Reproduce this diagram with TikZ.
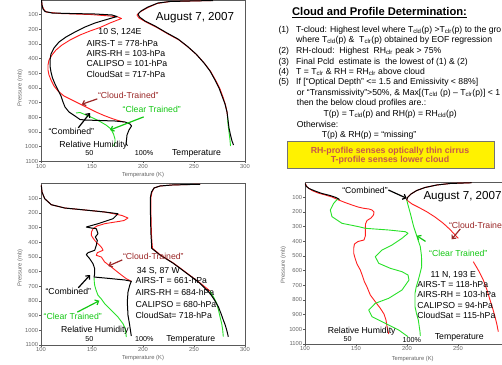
\documentclass[tikz,border=0pt]{standalone}
\usepackage{fontspec}
\setmainfont{Liberation Sans}
\usetikzlibrary{arrows.meta,calc}
\definecolor{curvered}{RGB}{255,30,30}
\definecolor{curvegreen}{RGB}{40,225,40}
\definecolor{txtred}{RGB}{155,40,40}
\definecolor{txtgreen}{RGB}{20,200,20}
\definecolor{boxtxt}{RGB}{198,88,76}
\newcommand{\plotframe}[4]{% #1 left x, #2 y of 0 mb, #3 right x, #4 last x label
  \draw[frame] (#1,#2) rectangle (#3,#2+161.3);
  \foreach \p in {1,...,11} {
    \draw[frame] (#1,#2+\p*14.66) -- ++(-2,0) node[ticklab,anchor=east] {\p00};
  }
  \foreach \t [count=\i from 0] in {100,150,...,#4} {
    \draw[frame] (#1+\i*51,#2+161.3) -- ++(0,2) node[ticklab,anchor=north] {\t};
  }
}
\newcommand{\sbs}[1]{\textsubscript{#1}}
\begin{document}
\begin{tikzpicture}[x=1pt,y=-1pt,
  frame/.style={draw=black!65, line width=0.5pt},
  ticklab/.style={font=\fontsize{5.8}{6}\selectfont, text=black!60, inner sep=0.6pt},
  axlab/.style={font=\fontsize{5.8}{6}\selectfont, text=black!60, inner sep=0pt},
  blkc/.style={draw=black, line width=1pt, line join=round},
  redc/.style={draw=curvered, line width=0.9pt, line join=round},
  grnc/.style={draw=curvegreen, line width=0.9pt, line join=round},
  ann/.style={font=\fontsize{8.7}{10}\selectfont, inner sep=0.5pt},
  bigdate/.style={font=\fontsize{11.6}{13}\selectfont, inner sep=0pt},
  smalllab/.style={font=\fontsize{7.2}{8}\selectfont, inner sep=0pt},
  arr/.style={-{Straight Barb[length=3pt,width=5.5pt]}, line width=1.2pt},
  listtxt/.style={font=\fontsize{8.65}{10}\selectfont, anchor=base west, inner sep=0pt},
]
\useasboundingbox (0,0) rectangle (502,364);
\clip (0,0) rectangle (502,364);
\fill[white] (0,0) rectangle (502,364);

% ================= TOP-LEFT PLOT =================
\plotframe{41}{0}{245}{300}
\node[axlab, rotate=90] (pl1) at (20,88) {Pressure (mb)};
\node[axlab] (tl1) at (143,175) {Temperature (K)};
% temperature
\draw[redc] (213,0.5) -- (170,1.5) -- (157,3.5) -- (147,8) -- (140,12) -- (137,15) -- (139,18) -- (146,22) -- (156,27) -- (168,34) -- (179,40) -- (188,47) -- (197,55) -- (205,64) -- (211,72) -- (216,81) -- (220,89) -- (223,97) -- (225.5,105) -- (227,112) -- (227.5,116);
\draw[grnc] (227.5,116) -- (228,124) -- (229,132) -- (230,140) -- (230.5,146);
\draw[blkc] (213,0.5) -- (190,1) -- (170,1.5) -- (158,3) -- (148,7) -- (141,11) -- (138,14) -- (139.5,17) -- (145,21) -- (155,26) -- (167,33) -- (178,39) -- (187,46) -- (196,54) -- (204,63) -- (210,71) -- (215,80) -- (219,88) -- (222,96) -- (225,104) -- (227,112) -- (228,120) -- (229,128) -- (230.5,135) -- (232,141) -- (233.5,145);
% RH
\draw[redc] (41.5,0) -- (42,5) -- (43.5,9) -- (46,12) -- (60,13.5) -- (90,14.5) -- (110,16) -- (118,17) -- (121.5,18.5) -- (110,23) -- (100,27.5) -- (90,31) -- (80,35) -- (70,40) -- (62,45) -- (56,50) -- (52,55) -- (49,60) -- (48,65) -- (48,70) -- (49,75) -- (51,80) -- (54,86) -- (58,91) -- (64,96) -- (72,100) -- (80,104) -- (88,108) -- (96,112) -- (104,115.5) -- (112,118.5) -- (118,120.5) -- (124,122);
\draw[grnc] (76,113) -- (80,112.5) -- (86,115) -- (93,118) -- (100,121.5) -- (106,125) -- (111,129) -- (113.5,134) -- (115,139) -- (115,143) -- (113.5,146);
\draw[blkc] (41.5,0) -- (42,5) -- (43,9) -- (45,11.5) -- (52,13) -- (70,13.5) -- (95,14) -- (112,15) -- (117,16.5) -- (105,20) -- (95,23) -- (85,27) -- (75,32) -- (66,37) -- (59,42) -- (54,48) -- (51,54) -- (50,60) -- (50,66) -- (51,72) -- (52.5,78) -- (55,84) -- (58,90) -- (61,96) -- (63,102) -- (65,107) -- (69,112) -- (75,116) -- (80,119.5) -- (85,120) -- (100,120.5) -- (115,121) -- (125,122) -- (130,124) -- (131.5,126) -- (129,130) -- (127,135) -- (126.5,140) -- (126,144) -- (127.5,145.5);
% labels
\node[bigdate] (d1) at (195,17.3) {August 7, 2007};
\node[ann] (loc1) at (120,32.3) {10 S, 124E};
\node[ann, anchor=west] (i1a) at (86,43.3) {AIRS-T = 778-hPa};
\node[ann, anchor=west] (i1b) at (86,53.5) {AIRS-RH = 103-hPa};
\node[ann, anchor=west] (i1c) at (86,63.8) {CALIPSO = 101-hPa};
\node[ann, anchor=west] (i1d) at (86,74) {CloudSat = 717-hPa};
\node[ann, text=txtred] (ct1) at (128.3,95) {“Cloud-Trained”};
\node[ann, text=txtgreen] (cl1) at (151.7,109) {“Clear Trained”};
\node[ann] (cb1) at (71.3,131.7) {“Combined”};
\node[ann] (rh1) at (93.3,145) {Relative Humidity};
\node[smalllab] (f1) at (89.3,153.3) {50};
\node[smalllab] (h1) at (144,153.3) {100\%};
\node[ann] (te1) at (196.5,153.3) {Temperature};
\coordinate (a1) at (81.7,104.3);
\coordinate (b1) at (110,130);
\coordinate (c1) at (90,113);
\draw[arr, txtred] (ct1.south west) -- (a1);
\draw[arr, txtgreen] ($(cl1.south)+(-8,4)$) -- (b1);
\draw[arr, black] ($(cb1.north)+(7,0)$) -- (c1);

% ================= BOTTOM-LEFT PLOT =================
\plotframe{41}{183.6}{245}{300}
\node[axlab, rotate=90] (pl2) at (20,268) {Pressure (mb)};
\node[axlab] (tl2) at (143,358) {Temperature (K)};
% temperature
\draw[redc] (200,184.3) -- (185,184.6) -- (172,185) -- (160,186) -- (154,188) -- (152,192) -- (151,197) -- (150.8,205) -- (151,215) -- (151.2,225) -- (151.5,235) -- (152,243) -- (152.5,248.3) -- (160.5,255) -- (173.8,263.3) -- (187.2,273.3) -- (200.5,283.3) -- (210,291);
\draw[grnc] (210,291) -- (213.5,297) -- (216.7,303.3) -- (218.5,310) -- (220,316.7) -- (221.7,323.5) -- (222.7,330) -- (223.3,336.7);
\draw[blkc] (200,184.3) -- (185,184.6) -- (172,185) -- (160,186) -- (154,188) -- (151.5,192) -- (150.5,197) -- (150.3,205) -- (150.5,215) -- (150.7,225) -- (151,235) -- (151.5,243) -- (151.7,248.3) -- (160,255) -- (173.3,263.3) -- (186.7,273.3) -- (200,283.3) -- (210,293.3) -- (214.5,300) -- (218.3,306.7) -- (221,313.5) -- (223.3,320) -- (225.2,325) -- (226.7,330) -- (228.3,336.7);
% RH
\draw[redc] (41.3,185.3) -- (42,192) -- (44.7,198.7) -- (51.3,204.7) -- (64.7,208) -- (88,210.3) -- (104.7,212) -- (115,214) -- (122,215.5) -- (128,218) -- (124,220.5) -- (119.7,221.3) -- (112,222.5) -- (104.7,223.7) -- (97,226) -- (93,228.7) -- (91.5,232) -- (91.3,235.3) -- (93,238) -- (94.7,240.3) -- (97,243) -- (99.7,245.3) -- (102,248) -- (103,250.3) -- (97.3,252.7) -- (96.3,255.3) -- (101.3,257) -- (104.7,262) -- (111.3,267) -- (119.7,273.7) -- (126.3,278.7) -- (131.3,281.3);
\draw[grnc] (94,277.5) -- (94.3,282) -- (94.7,285.3) -- (96,290) -- (98,295.3) -- (101,298.5) -- (104.7,303.7) -- (109.7,308.7) -- (114,313) -- (118,317) -- (121,321) -- (123,323.7) -- (125,328) -- (125.3,330.3) -- (126,334) -- (126.3,337);
\draw[blkc] (41.3,185.3) -- (42,192) -- (44.7,198.7) -- (51.3,204.7) -- (64.7,208) -- (88,210.3) -- (104.7,212) -- (118,213.7) -- (113,218.7) -- (98,223.7) -- (86.3,227) -- (91.3,228) -- (96.3,228.7) -- (98,233.7) -- (95.3,237) -- (97.3,240.3) -- (96.3,245.3) -- (94.7,250.3) -- (88,252.7) -- (86.3,254.7) -- (89.7,258.7) -- (93,263.7) -- (94.7,268.7) -- (94.7,273.7) -- (94,277) -- (110,278.5) -- (125,280) -- (131.3,281.3) -- (129.7,285.3) -- (128,292) -- (127.3,302) -- (128,315.3) -- (129.7,325.3) -- (131.3,336);
% labels
\node[ann, text=txtred] (ct2) at (153.3,256) {“Cloud-Trained”};
\node[ann] (loc2) at (158.3,270.7) {34 S, 87 W};
\node[ann, anchor=west] (i2a) at (135,280.7) {AIRS-T = 661-hPa};
\node[ann, anchor=west] (i2b) at (135,292.3) {AIRS-RH = 684-hPa};
\node[ann, anchor=west] (i2c) at (135,304) {CALIPSO = 680-hPa};
\node[ann, anchor=west] (i2d) at (135,315.7) {CloudSat= 718-hPa};
\node[ann] (cb2) at (68.3,291.7) {“Combined”};
\node[ann, text=txtgreen] (cl2) at (72.7,316) {“Clear Trained”};
\node[ann] (rh2) at (95,330.7) {Relative Humidity};
\node[smalllab] (f2) at (89.3,339.3) {50};
\node[smalllab] (h2) at (144.3,339.3) {100\%};
\node[ann] (te2) at (190.7,339.3) {Temperature};
\coordinate (a2) at (108.3,266);
\coordinate (b2) at (90,275);
\coordinate (c2) at (99.3,300.7);
\draw[arr, txtred] (ct2.south west) -- (a2);
\draw[arr, black] ($(cb2.north)+(10,0)$) -- (b2);
\draw[arr, txtgreen] ($(cl2.north)+(4.6,0)$) -- (c2);

% ================= BOTTOM-RIGHT PLOT =================
\plotframe{305}{182.6}{510}{250}
\node[axlab, rotate=90] (pl3) at (283.3,265) {Pressure (mb)};
\node[axlab] (tl3) at (412.7,359.3) {Temperature (K)};
% temperature
\draw[redc] (471.7,182.7) -- (450,183.5) -- (436.7,185) -- (425,187.5) -- (416.7,190.5) -- (411,194) -- (407.5,197.5) -- (406.7,200) -- (412,204) -- (418,207) -- (426.7,211.7) -- (435,217) -- (443.3,223.3) -- (450,229.5) -- (456.7,236.7) -- (458.3,238.3);
\draw[redc] (473.3,261.7) -- (478.5,270.5) -- (483.3,280) -- (487,290) -- (490,300) -- (492.7,308.5) -- (495,316.7) -- (496.8,324) -- (498.3,331.7);
\draw[grnc] (406.7,200) -- (408,205) -- (410.3,213.3) -- (412,220) -- (413.7,226.7) -- (417,236.7) -- (420.3,246.7) -- (421.5,256) -- (421.7,266.7) -- (420,273.5) -- (418.3,280) -- (416.2,287) -- (415,293.3) -- (415,306.7) -- (416.5,313.5) -- (418.3,320) -- (420,331.7) -- (420.3,336);
\draw[blkc] (471.7,182.7) -- (450,183.5) -- (436.7,185) -- (425,187.5) -- (416.7,190.5) -- (411,194) -- (407.5,197.5) -- (406.7,200);
% RH
\draw[redc] (305.3,183.5) -- (307,187) -- (312,190.5) -- (318,193) -- (325.3,195) -- (332,197) -- (338.7,200) -- (345,202.5) -- (352,205) -- (358,207) -- (363.7,208.3) -- (369,209) -- (372,210) -- (374,212) -- (373.5,215) -- (371,218) -- (367,220.5) -- (365.5,224) -- (365.3,230) -- (365.3,236) -- (364,240) -- (358,241.5) -- (354.5,244) -- (353.7,248) -- (353.7,253.3) -- (355,258) -- (357,264) -- (360.3,270) -- (362.5,276) -- (364.5,282) -- (367,287) -- (370.3,295) -- (375.3,301.7) -- (380.3,308.3) -- (384,314) -- (386,320) -- (387,326.7) -- (388.7,334);
\draw[grnc] (338,198.5) -- (333.7,203.3) -- (330.3,210) -- (332,216.7) -- (342,223.3) -- (358.7,226.7) -- (365.3,228.3) -- (388.7,230) -- (405.3,231.7) -- (408,233.3) -- (402,238.3) -- (392,245) -- (382,250) -- (375.3,256.7) -- (378.7,263.3) -- (390.3,268.3) -- (402,271.7) -- (408,275) -- (409,280) -- (402,290) -- (388.7,298.3) -- (375.3,303.3) -- (368.7,310) -- (372,316.7) -- (385.3,323.3) -- (398.7,330) -- (408,336.7);
\draw[blkc] (305.3,183.5) -- (306,186) -- (309,188.5) -- (315,191) -- (322,193.5) -- (330,195.5) -- (336,197.5) -- (339.5,199.5);
% labels
\node[ann] (cb3) at (365,190) {“Combined”};
\node[bigdate, anchor=west] (d3) at (423.3,196.7) {August 7, 2007};
\node[ann, text=txtred, anchor=west] (ct3) at (448.3,225) {“Cloud-Traine};
\node[ann, text=txtgreen] (cl3) at (458.3,253.3) {“Clear Trained”};
\node[ann] (loc3) at (453.3,275) {11 N, 193 E};
\node[ann, anchor=west] (i3a) at (416.7,284.3) {AIRS-T = 118-hPa};
\node[ann, anchor=west] (i3b) at (416.7,294.6) {AIRS-RH = 103-hPa};
\node[ann, anchor=west] (i3c) at (416.7,304.9) {CALIPSO = 94-hPa};
\node[ann, anchor=west] (i3d) at (416.7,315.2) {CloudSat = 115-hPa};
\node[ann] (rh3) at (361.7,331.7) {Relative Humidity};
\node[smalllab] (f3) at (347.7,339.3) {50};
\node[smalllab] (h3) at (411.7,340) {100\%};
\node[ann] (te3) at (459.3,337.7) {Temperature};
\coordinate (a3) at (406.7,198.3);
\coordinate (b3) at (451.7,239.3);
\coordinate (c3) at (416.7,235.7);
\draw[arr, black] (cb3.east) -- (a3);
\draw[arr, txtred] ($(ct3.south west)+(12,0)$) -- (b3);
\draw[arr, txtgreen] ($(cl3.north west)+(-3,-8)$) -- (c3);

% ================= TEXT PANEL =================
\node[font=\bfseries\fontsize{11.2}{13}\selectfont, anchor=base, inner sep=0pt] (title) at (379.5,16) {\underline{Cloud and Profile Determination:}};
\node[listtxt] (n1) at (278.3,32) {(1)};
\node[listtxt] (l1) at (296,32) {T-cloud: Highest level where T\sbs{cld}(p) >T\sbs{clr}(p) to the gro};
\node[listtxt] (l1b) at (296,42.3) {where T\sbs{cld}(p) \&\ \ T\sbs{clr}(p) obtained by EOF regression};
\node[listtxt] (n2) at (278.3,53.7) {(2)};
\node[listtxt] (l2) at (296,53.7) {RH-cloud:\ \ Highest\ \ RH\sbs{clr} peak > 75\%};
\node[listtxt] (n3) at (278.3,64) {(3)};
\node[listtxt] (l3) at (296,64) {Final Pcld\ \ estimate is\ \ the lowest of (1) \& (2)};
\node[listtxt] (n4) at (278.3,74.3) {(4)};
\node[listtxt] (l4) at (296,74.3) {T = T\sbs{clr} \& RH = RH\sbs{clr} above cloud};
\node[listtxt] (n5) at (278.3,84.7) {(5)};
\node[listtxt] (l5) at (296,84.7) {If [“Optical Depth” <= 1.5 and Emissivity < 88\%]};
\node[listtxt] (l5b) at (296.7,95) {or “Transmissivity”>50\%, \& Max[(T\sbs{cld} (p) – T\sbs{clr}(p)] < 1};
\node[listtxt] (l5c) at (296.7,105.3) {then the below cloud profiles are.:};
\node[listtxt] (l5d) at (323.3,116.3) {T(p) = T\sbs{cld}(p) and RH(p) = RH\sbs{cld}(p)};
\node[listtxt] (l5e) at (296.7,127) {Otherwise:};
\node[listtxt] (l5f) at (321.7,137.7) {T(p) \& RH(p) = “missing”};
\node[draw=black!55, line width=0.6pt, fill=yellow, minimum width=207pt, minimum height=26.6pt, inner sep=0pt] (ybox) at (390.7,155) {};
\node[font=\bfseries\fontsize{8.8}{10}\selectfont, text=boxtxt, inner sep=0pt, align=center] (ytxt) at (390,155.8) {RH-profile senses optically thin cirrus\\[-0.4pt]T-profile senses lower cloud};
\end{tikzpicture}
\end{document}
